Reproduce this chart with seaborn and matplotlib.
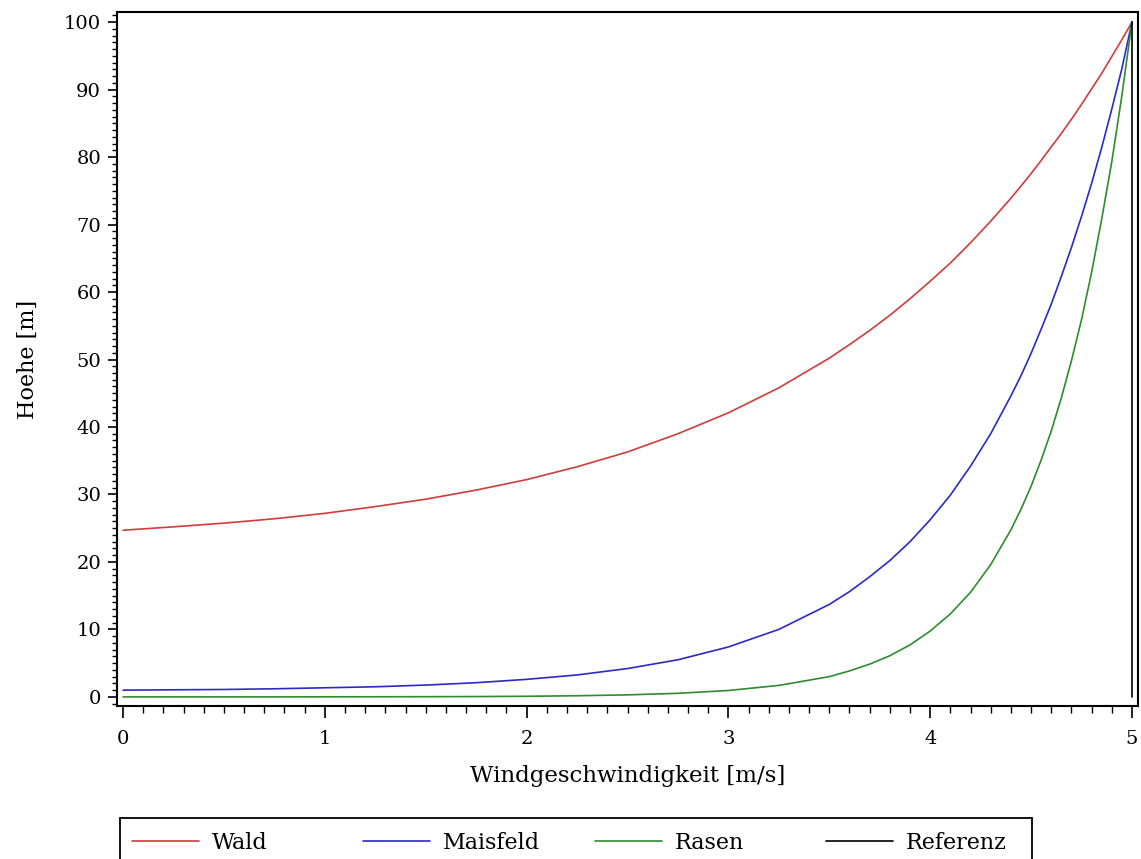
import numpy as np
import pandas as pd
import matplotlib
matplotlib.use("Agg")
import matplotlib.pyplot as plt
import seaborn as sns
from matplotlib.ticker import MultipleLocator
from matplotlib.patches import Rectangle

# ===== DATEN =====
u_wind = [0.0, 0.25, 0.5, 0.75, 1.0, 1.25, 1.5, 1.75, 2.0, 2.25, 2.5, 2.75,
          3.0, 3.25, 3.5, 3.6, 3.7, 3.8, 3.9, 4.0, 4.1, 4.2, 4.3, 4.4,
          4.45, 4.5, 4.55, 4.6, 4.65, 4.7, 4.75, 4.8, 4.85, 4.9, 4.95, 5.0]

hoehe_wald = [24.7, 25.2, 25.75, 26.4, 27.2, 28.2, 29.3, 30.65, 32.2, 34.1,
              36.3, 39.0, 42.1, 45.8, 50.2, 52.2, 54.3, 56.55, 59.0, 61.6,
              64.3, 67.3, 70.5, 73.9,
              75.7, 77.55, 79.5, 81.5, 83.5, 85.6, 87.8, 90.1, 92.4, 94.9, 97.4, 100.0]

hoehe_mais = [1.0, 1.05, 1.1, 1.2, 1.35, 1.5, 1.75, 2.1, 2.6, 3.25,
              4.2, 5.5, 7.4, 10.0, 13.7, 15.6, 17.8, 20.2, 23.0, 26.25,
              29.9, 34.2, 39.0, 44.6,
              47.6, 50.9, 54.5, 58.2, 62.3, 66.6, 71.2, 76.1, 81.4, 87.1, 93.1, 100.0]

hoehe_rasen = [0.0, 0.0, 0.0, 0.0, 0.01, 0.02, 0.03, 0.05, 0.09, 0.17,
               0.3, 0.53, 0.95, 1.7, 3.0, 3.85, 4.85, 6.1, 7.7, 9.75,
               12.3, 15.5, 19.6, 24.75,
               27.8, 31.2, 35.1, 39.4, 44.3, 49.8, 55.9, 62.9, 70.8, 79.3, 89.1, 100.0]

u_referenz = [5.0, 5.0]
hoehe_referenz = [0.0, 100.0]

namen = ["Wald", "Maisfeld", "Rasen", "Referenz"]
farben = ["#d03c3c", "#2a2ac8", "#2e8b2e", "#000000"]

# ===== TABELLE =====
teile = []
for name, u, z in [("Wald", u_wind, hoehe_wald),
                   ("Maisfeld", u_wind, hoehe_mais),
                   ("Rasen", u_wind, hoehe_rasen),
                   ("Referenz", u_referenz, hoehe_referenz)]:
    teile.append(pd.DataFrame({"u": u, "z": z, "Flaeche": name}))
df = pd.concat(teile, ignore_index=True)

# ===== STIL =====
sns.set_style("ticks")
plt.rcParams["font.family"] = ["DejaVu Serif"]
for key in ["text.color", "axes.labelcolor", "xtick.color", "ytick.color", "axes.edgecolor"]:
    plt.rcParams[key] = "black"

W, H = 1141, 859
fig = plt.figure(figsize=(W / 100, H / 100), dpi=100)
ax = fig.add_axes([117 / W, 1 - 706 / H, (1138 - 117) / W, (706 - 12) / H])

sns.lineplot(data=df, x="u", y="z", hue="Flaeche", hue_order=namen,
             palette=farben, estimator=None, sort=False, linewidth=1.2,
             ax=ax, legend=False)

ax.set_xlim(-0.03, 5.03)
ax.set_ylim(-1.35, 101.5)
ax.xaxis.set_major_locator(MultipleLocator(1))
ax.xaxis.set_minor_locator(MultipleLocator(0.1))
ax.yaxis.set_major_locator(MultipleLocator(10))
ax.yaxis.set_minor_locator(MultipleLocator(1))

for sp in ax.spines.values():
    sp.set_linewidth(1.5)

ax.tick_params(axis="x", which="major", length=8.5, width=1.2, pad=9, labelsize=14)
ax.tick_params(axis="x", which="minor", length=5, width=1.0)
ax.tick_params(axis="y", which="major", length=6.5, width=1.2, pad=5, labelsize=14)
ax.tick_params(axis="y", which="minor", length=3.8, width=1.0)

ax.set_xlabel("Windgeschwindigkeit [m/s]", fontsize=16.5, labelpad=12)
ax.set_ylabel("Hoehe [m]", fontsize=16, labelpad=18)

# ===== LEGENDE (feste Spaltenbreite wie im Original) =====
leg_x = [132, 363, 595, 826]
leg_y = 1 - 843 / H
for x0, name, c in zip(leg_x, namen, farben):
    h = plt.Line2D([], [], color=c, linewidth=1.2)
    fig.legend([h], [name], loc="center left", bbox_to_anchor=(x0 / W, leg_y),
               frameon=False, fontsize=16, handlelength=3.0, handletextpad=0.6,
               borderpad=0, borderaxespad=0)
fig.patches.append(Rectangle((120 / W, 1 - 870 / H), (1032 - 120) / W, (870 - 818) / H,
                             transform=fig.transFigure, fill=False,
                             edgecolor="black", linewidth=1.3))

fig.savefig("out.png", dpi=100)
